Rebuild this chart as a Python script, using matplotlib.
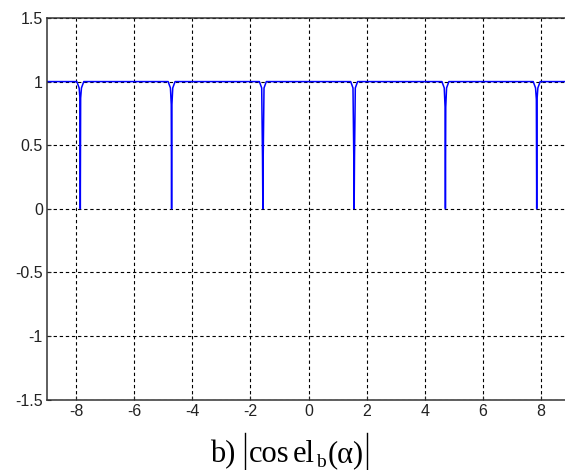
import numpy as np
import matplotlib
matplotlib.use("Agg")
import matplotlib.pyplot as plt
from matplotlib.lines import Line2D

plt.rcParams['font.family'] = ['Liberation Sans', 'DejaVu Sans']
plt.rcParams['axes.unicode_minus'] = False

# |cosel_b(alpha)|: flat at 1, narrow dips to 0 at odd multiples of pi/2
dip_centers = [-7.854, -4.712, -1.571, 1.571, 4.712, 7.854]
dip_heavy = [0.87, 0.82, 0.40, 0.40, 0.80, 0.86]   # depth of the thick part of each dip
dip_offsets = [-0.12, -0.04, -0.012, 0.0, 0.012, 0.04, 0.12]
dip_shape = [1.0, 0.95, None, 0.0, None, 0.95, 1.0]

xticks = [-8, -6, -4, -2, 0, 2, 4, 6, 8]
xticklabels = ['-8', '-6', '-4', '-2', '0', '2', '4', '6', '8']
yticks = [-1.5, -1, -0.5, 0, 0.5, 1, 1.5]
yticklabels = ['-1.5', '-1', '-0.5', '0', '0.5', '1', '1.5']

alpha = [-9.0]
val = [1.0]
for c, h in zip(dip_centers, dip_heavy):
    for o, s in zip(dip_offsets, dip_shape):
        alpha.append(c + o)
        val.append(h if s is None else s)
alpha.append(9.0)
val.append(1.0)

W, H = 565, 470
fig = plt.figure(figsize=(W / 100, H / 100), dpi=100)
ax = fig.add_axes([47 / W, 70.5 / H, 523 / W, 381.5 / H])

ax.plot(alpha, val, color='#0000ff', lw=1.1)

ax.set_xlim(-9, 9)
ax.set_ylim(-1.5, 1.5)
ax.set_xticks(xticks)
ax.set_xticklabels(xticklabels)
ax.set_yticks(yticks)
ax.set_yticklabels(yticklabels)
ax.tick_params(direction='in', length=3, width=0.8, labelsize=11.5, pad=3,
               colors='#222222')
ax.grid(True, color='black', linestyle=(0, (3, 2.5)), lw=0.8)
for sp in ax.spines.values():
    sp.set_linewidth(1.1)
    sp.set_color('#333333')

# caption: b) |cosel_b(alpha)|, built piece by piece so the subscript sits low
base = 462
renderer = fig.canvas.get_renderer()


def piece(x, s, size=22, drop=0):
    t = fig.text(x / W, 1 - (base + drop) / H, s, ha='left', va='baseline',
                 fontsize=size, family='Liberation Serif')
    return t.get_window_extent(renderer).x1


def bar(x):
    fig.add_artist(Line2D([x / W, x / W], [1 - 433 / H, 1 - 471 / H],
                          color='black', lw=1.0, transform=fig.transFigure))


x = piece(210, 'b)')
bar(x + 10)
x = piece(x + 14, 'cos')
x = piece(x + 3, 'el')
x = piece(x + 1, 'b', size=14, drop=5)
x = piece(x + 2, '(\u03b1)')
bar(x + 3)

fig.savefig('out.png', dpi=100)
